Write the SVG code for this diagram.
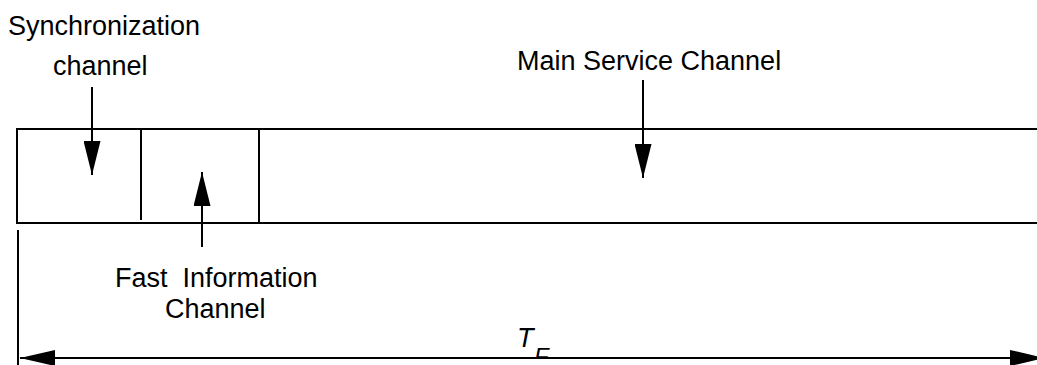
<svg xmlns="http://www.w3.org/2000/svg" width="1037" height="365" viewBox="0 0 1037 365">
  <style>
    .ln { fill: none; stroke: #000; stroke-width: 2; }
    .lbl { font-family: "Liberation Sans", Arial, sans-serif; font-size: 27px; fill: #000; }
    .it { font-style: italic; }
  </style>
  <defs>
    <marker id="ah" viewBox="0 0 34 17" markerWidth="34" markerHeight="17" refX="34" refY="8.5" orient="auto-start-reverse" markerUnits="userSpaceOnUse">
      <path d="M0,0 L34,8.5 L0,17 Z" fill="#000"/>
    </marker>
    <marker id="ahs" viewBox="0 0 35 16" markerWidth="35" markerHeight="16" refX="35" refY="8" orient="auto-start-reverse" markerUnits="userSpaceOnUse">
      <path d="M0,0 L35,8 L0,16 Z" fill="#000"/>
    </marker>
    <clipPath id="fclip">
      <rect x="520" y="330" width="50" height="27"/>
    </clipPath>
  </defs>

  <g id="frame">
    <path class="ln" d="M1037,129 H17 V223 H1037"/>
    <line class="ln" x1="141" y1="129" x2="141" y2="220"/>
    <line class="ln" x1="259" y1="129" x2="259" y2="223"/>
  </g>

  <g id="sync-label">
    <text class="lbl" x="8" y="35">Synchronization</text>
    <text class="lbl" x="53" y="75">channel</text>
  </g>

  <g id="msc-label">
    <text class="lbl" x="517" y="70">Main Service Channel</text>
  </g>

  <g id="fic-label">
    <text class="lbl" x="115" y="287" xml:space="preserve" style="white-space:pre">Fast  Information</text>
    <text class="lbl" x="165" y="318">Channel</text>
  </g>

  <g id="tf-label">
    <text class="lbl it" x="517" y="347">T</text>
    <text class="lbl it" x="534" y="365" clip-path="url(#fclip)" style="font-size:24px">F</text>
  </g>

  <g id="connectors">
    <line class="ln" x1="92" y1="87" x2="92" y2="175" marker-end="url(#ah)"/>
    <line class="ln" x1="643" y1="80" x2="643" y2="178" marker-end="url(#ah)"/>
    <line class="ln" x1="202" y1="247" x2="202" y2="172" marker-end="url(#ah)"/>
    <line class="ln" x1="18" y1="230" x2="18" y2="365"/>
    <line class="ln" x1="20" y1="358" x2="1045" y2="358" marker-start="url(#ahs)" marker-end="url(#ahs)"/>
  </g>
</svg>
